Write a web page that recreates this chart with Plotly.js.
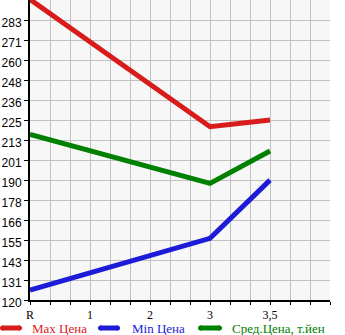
<!DOCTYPE html>
<html>
<head>
<meta charset="utf-8">
<script src="https://cdn.plot.ly/plotly-3.0.1.min.js"></script>
<style>
html,body{margin:0;padding:0;background:#fff;}
#chart{width:345px;height:335px;}
</style>
</head>
<body>
<div id="chart"></div>
<script>
var xLabels = ['R', '1', '2', '3', '3,5'];
var xPos = [0, 1, 2, 3, 4];
var yLabels = ['120', '131', '143', '155', '166', '178', '190', '201', '213', '225', '236', '248', '260', '271', '283'];

var maxX = [0, 3, 4];
var maxY = [295, 220.9, 224.8];
var minX = [0, 3, 4];
var minY = [125.8, 155.9, 189.8];
var avgX = [0, 3, 4];
var avgY = [216.4, 187.9, 206.7];

var seriesNames = ['Max Цена', 'Min Цена', 'Сред.Цена, т.йен'];
var seriesColors = ['#d81c1c', '#1c1cd8', '#008000'];

var yMin = 120, yTopLabel = 283;
var yStep = (yTopLabel - yMin) / (yLabels.length - 1);
var yTickVals = yLabels.map(function (_, i) { return yMin + i * yStep; });

var L = 30, R = 15, T = 0, B = 35, W = 345, H = 335;
var pw = W - L - R, ph = H - T - B;
function px(x) { return (x - L) / pw; }
function py(y) { return (ph + T - y) / ph; }

function tr(x, y, i) {
  return {
    x: x, y: y, type: 'scatter', mode: 'lines', name: seriesNames[i],
    line: {color: seriesColors[i], width: 5},
    hoverinfo: 'skip', showlegend: false
  };
}

var data = [tr(maxX, maxY, 0), tr(minX, minY, 1), tr(avgX, avgY, 2)];

// legend drawn as shapes + annotations
var legSample = [[0, 22], [98, 120], [198, 222]];
var legText = [30, 130, 230];
var legY = 328;
var shapes = [], annotations = [];
seriesNames.forEach(function (n, i) {
  shapes.push({type: 'line', xref: 'paper', yref: 'paper',
    x0: px(legSample[i][0] + 2), x1: px(legSample[i][1] - 2), y0: py(legY), y1: py(legY),
    line: {color: seriesColors[i], width: 5}});
  shapes.push({type: 'circle', xref: 'paper', yref: 'paper', fillcolor: seriesColors[i], line: {width: 0},
    x0: px(legSample[i][0]), x1: px(legSample[i][0] + 5), y0: py(legY + 2.5), y1: py(legY - 2.5)});
  shapes.push({type: 'circle', xref: 'paper', yref: 'paper', fillcolor: seriesColors[i], line: {width: 0},
    x0: px(legSample[i][1] - 5), x1: px(legSample[i][1]), y0: py(legY + 2.5), y1: py(legY - 2.5)});
  annotations.push({xref: 'paper', yref: 'paper', x: px(legText[i]), y: py(legY),
    xanchor: 'left', yanchor: 'middle', showarrow: false, text: n,
    font: {family: 'Liberation Serif', size: 13, color: seriesColors[i]}});
});

var layout = {
  width: W, height: H,
  margin: {l: L, r: R, t: T, b: B, pad: 0},
  paper_bgcolor: '#ffffff',
  plot_bgcolor: '#f7f7f7',
  showlegend: false,
  shapes: shapes, annotations: annotations,
  xaxis: {
    range: [0, 5], tickmode: 'array', tickvals: xPos, ticktext: xLabels,
    showgrid: true, gridcolor: '#c0c0c0', gridwidth: 1,
    ticks: 'outside', ticklen: 3, tickcolor: '#000', tickwidth: 1,
    showline: true, linecolor: '#000', linewidth: 2,
    zeroline: false, fixedrange: true, automargin: false,
    tickfont: {family: 'Liberation Serif', size: 12, color: '#000'},
    minor: {dtick: 1/3, tick0: 0, showgrid: true, gridcolor: '#c0c0c0', gridwidth: 1, ticks: 'outside', ticklen: 3, tickcolor: '#000'}
  },
  yaxis: {
    range: [yMin, yMin + 15 * yStep], tickmode: 'array', tickvals: yTickVals, ticktext: yLabels,
    showgrid: true, gridcolor: '#c0c0c0', gridwidth: 1,
    ticks: 'outside', ticklen: 4, tickcolor: '#000', tickwidth: 1,
    showline: true, linecolor: '#000', linewidth: 2,
    zeroline: false, fixedrange: true, ticklabelshift: 3, automargin: false,
    tickfont: {family: 'Liberation Sans', size: 12, color: '#000'}
  }
};

Plotly.newPlot('chart', data, layout, {displayModeBar: false, staticPlot: true});
</script>
</body>
</html>
